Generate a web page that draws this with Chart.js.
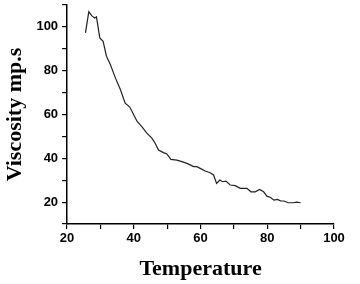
<!DOCTYPE html>
<html>
<head>
<meta charset="utf-8">
<script src="https://cdn.jsdelivr.net/npm/chart.js@4.4.0/dist/chart.umd.min.js"></script>
<style>
  html, body { margin: 0; padding: 0; background: #fff; }
  #wrap { width: 360px; height: 284px; }
</style>
</head>
<body>
<div id="wrap"><canvas id="grafico" width="360" height="284"></canvas></div>
<script>
// Datos
const temperatura = [25.5, 26.5, 27.5, 28.3, 28.8, 29.8, 30.8, 31.8, 33, 34.5, 36, 37.4, 38.8, 40, 41, 42.4, 43.9, 45.4, 46.4, 47.4, 48.9, 49.9, 51.1, 52.9, 54.4, 55.9, 56.9, 57.9, 58.9, 59.9, 61.4, 62.9, 63.9, 64.8, 65.8, 66.6, 67.6, 68.9, 70.4, 71.9, 73.9, 75.1, 76.4, 77.7, 78.9, 79.9, 81, 82, 83, 84, 85, 86.3, 87.8, 88.8, 90];
const viscosidad = [97.3, 106.9, 104.9, 104.1, 104.6, 95, 93.4, 86.6, 82.7, 76.6, 71.3, 65.2, 63.4, 59.8, 56.8, 54.5, 51.5, 49.2, 46.9, 43.8, 42.6, 42, 39.5, 39.2, 38.5, 37.7, 37, 36.2, 36.2, 35.4, 34.2, 33.4, 32.4, 28.5, 30.1, 29.3, 29.6, 27.8, 27.5, 26.3, 26.3, 24.7, 24.7, 25.8, 24.7, 22.7, 22.1, 20.9, 21.2, 20.6, 20.5, 19.7, 19.7, 20, 19.7];
const ticksX = [20, 40, 60, 80, 100];
const ticksY = [20, 40, 60, 80, 100];

const puntos = temperatura.map((t, i) => ({ x: t, y: viscosidad[i] }));

const ctx = document.getElementById('grafico').getContext('2d');
new Chart(ctx, {
    type: 'scatter',
    data: {
        datasets: [{
            data: puntos,
            showLine: true,
            borderColor: '#222',
            borderWidth: 1.2,
            pointRadius: 0,
            tension: 0
        }]
    },
    options: {
        responsive: false,
        animation: false,
        layout: { padding: { left: 2, right: 26, top: 5, bottom: 1 } },
        plugins: { legend: { display: false }, tooltip: { enabled: false } },
        scales: {
            x: {
                min: 20, max: 100,
                border: { display: true, color: '#000', width: 1.5 },
                grid: { drawOnChartArea: false, drawTicks: true, tickLength: 5, color: '#000', lineWidth: 1.2 },
                ticks: {
                    stepSize: 10, color: '#000', padding: 2, maxRotation: 0,
                    font: { family: 'Liberation Sans', size: 13, weight: 'bold' },
                    callback: v => ticksX.includes(v) ? String(v) : ''
                },
                title: {
                    display: true, text: 'Temperature', color: '#000',
                    font: { family: 'Liberation Serif', size: 22, weight: 'bold' },
                    padding: { top: 8, bottom: 0 }
                }
            },
            y: {
                min: 10, max: 110,
                afterFit: s => { s.paddingTop = 0; },
                border: { display: true, color: '#000', width: 1.5 },
                grid: { drawOnChartArea: false, drawTicks: true, tickLength: 5, color: '#000', lineWidth: 1.2 },
                ticks: {
                    stepSize: 10, color: '#000', padding: 4,
                    font: { family: 'Liberation Sans', size: 13, weight: 'bold' },
                    callback: v => ticksY.includes(v) ? String(v) : ''
                },
                title: {
                    display: true, text: 'Viscosity mp.s', color: '#000',
                    font: { family: 'Liberation Serif', size: 22, weight: 'bold' },
                    padding: { top: 0, bottom: 4 }
                }
            }
        }
    }
});
</script>
</body>
</html>
